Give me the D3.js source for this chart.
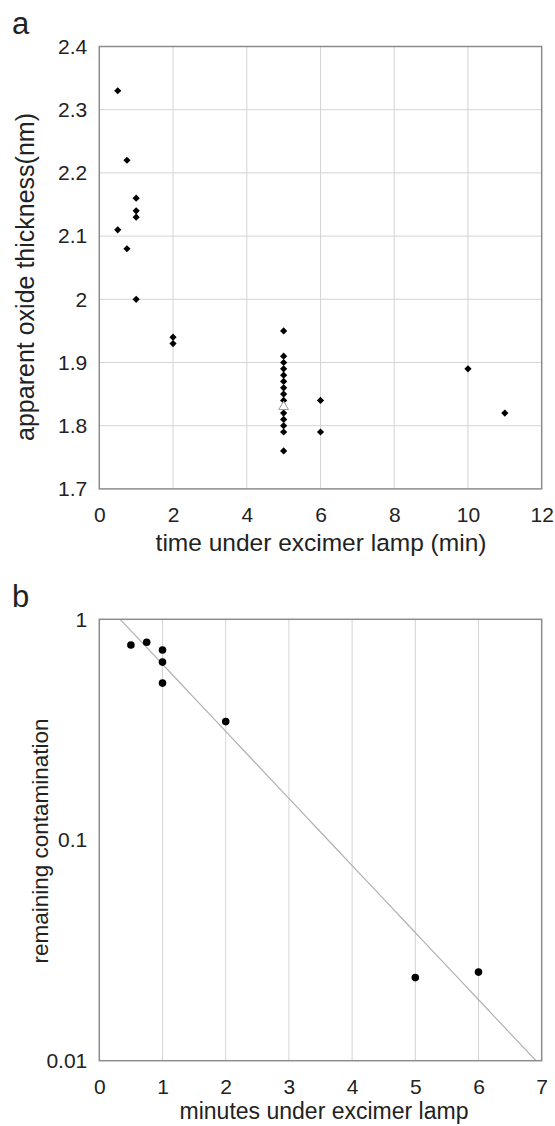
<!DOCTYPE html>
<html lang="en">
<head>
<meta charset="UTF-8">
<title>Excimer lamp cleaning</title>
<script src="https://d3js.org/d3.v7.min.js"></script>
<style>
    body { margin: 0; background: #fff; }
    svg { display: block; background: #fff; }
    text { font-family: "Liberation Sans", Arial, sans-serif; fill: #222; }
    .tick text { font-size: 21px; }
    .grid line { stroke: #d4d4d4; stroke-width: 1; }
</style>
</head>
<body>
<svg id="chart" width="555" height="1126"></svg>
<script>
    // panel a: apparent oxide thickness vs time
    const timeA = [0.5, 0.5, 0.75, 0.75, 1, 1, 1, 1, 2, 2,
                   5, 5, 5, 5, 5, 5, 5, 5, 5, 5, 5, 5, 5, 5,
                   6, 6, 10, 11];
    const thickA = [2.33, 2.11, 2.22, 2.08, 2.16, 2.14, 2.13, 2.00, 1.94, 1.93,
                    1.95, 1.91, 1.90, 1.89, 1.88, 1.87, 1.86, 1.85, 1.84, 1.82, 1.81, 1.80, 1.79, 1.76,
                    1.84, 1.79, 1.89, 1.82];
    const meanA = [{t: 5, v: 1.83}];   // hollow triangle
    const xTicksA = [0, 2, 4, 6, 8, 10, 12];
    const yTicksA = [1.7, 1.8, 1.9, 2, 2.1, 2.2, 2.3, 2.4];

    // panel b: remaining contamination (log)
    const timeB = [0.5, 0.75, 1, 1, 1, 2, 5, 6];
    const contB = [0.765, 0.787, 0.726, 0.640, 0.514, 0.344, 0.0238, 0.0252];
    const fitA = 1.26, fitK = 0.70;    // contamination = fitA * exp(-fitK * t)
    const xTicksB = [0, 1, 2, 3, 4, 5, 6, 7];
    const yTicksB = [0.01, 0.1, 1];

    const svg = d3.select("#chart");

    const xA = d3.scaleLinear().domain([0, 12]).range([99.3, 541.7]);
    const yA = d3.scaleLinear().domain([1.7, 2.4]).range([488.9, 46.5]);
    const xB = d3.scaleLinear().domain([0, 7]).range([99.3, 541.7]);
    const yB = d3.scaleLog().domain([0.01, 1]).range([1060.7, 619.3]);

    function frame(x, y) {
        const [x0, x1] = x.range(), [y0, y1] = y.range();
        svg.append("rect")
            .attr("x", x0).attr("y", y1)
            .attr("width", x1 - x0).attr("height", y0 - y1)
            .attr("fill", "none").attr("stroke", "#8c8c8c").attr("stroke-width", 1.5);
    }

    function axes(x, y, xt, yt, fmtY) {
        const [x0, x1] = x.range(), [y0, y1] = y.range();
        svg.append("g")
            .attr("transform", `translate(0,${y0})`)
            .call(d3.axisBottom(x).tickValues(xt).tickSize(0).tickPadding(18.5).tickFormat(d3.format("d")))
            .call(g => g.select(".domain").remove());
        svg.append("g")
            .attr("transform", `translate(${x0},0)`)
            .call(d3.axisLeft(y).tickValues(yt).tickSize(0).tickPadding(12).tickFormat(fmtY))
            .call(g => g.select(".domain").remove());
    }

    // ---- panel a ----
    const gridA = svg.append("g").attr("class", "grid");
    gridA.selectAll(".v").data(xTicksA.slice(1, -1)).join("line")
        .attr("x1", d => xA(d)).attr("x2", d => xA(d))
        .attr("y1", yA.range()[0]).attr("y2", yA.range()[1]);
    gridA.selectAll(".h").data(yTicksA.slice(1, -1)).join("line")
        .attr("class", "h")
        .attr("y1", d => yA(d)).attr("y2", d => yA(d))
        .attr("x1", xA.range()[0]).attr("x2", xA.range()[1]);

    frame(xA, yA);
    axes(xA, yA, xTicksA, yTicksA, d => String(d));

    const diamond = d3.symbol().type(d3.symbolSquare).size(26);
    svg.append("g").selectAll("path")
        .data(timeA.map((t, i) => ({t, v: thickA[i]})))
        .join("path")
        .attr("d", diamond)
        .attr("transform", d => `translate(${xA(d.t)},${yA(d.v)}) rotate(45)`)
        .attr("fill", "#000");

    svg.append("g").selectAll("path")
        .data(meanA)
        .join("path")
        .attr("d", d3.symbol().type(d3.symbolTriangle).size(40))
        .attr("transform", d => `translate(${xA(d.t)},${yA(d.v)})`)
        .attr("fill", "#fff").attr("stroke", "#999").attr("stroke-width", 1);

    svg.append("text").attr("x", 12).attr("y", 34)
        .style("font-size", "31px").text("a");
    svg.append("text")
        .attr("x", 321).attr("y", 551)
        .attr("text-anchor", "middle").style("font-size", "24.5px")
        .text("time under excimer lamp (min)");
    svg.append("text")
        .attr("transform", `translate(34,277) rotate(-90)`)
        .attr("text-anchor", "middle").style("font-size", "25px")
        .text("apparent oxide thickness(nm)");

    // ---- panel b ----
    const gridB = svg.append("g").attr("class", "grid");
    gridB.selectAll("line").data(xTicksB.slice(1, -1)).join("line")
        .attr("x1", d => xB(d)).attr("x2", d => xB(d))
        .attr("y1", yB.range()[0]).attr("y2", yB.range()[1]);

    // fitted exponential, clipped to the plot
    const tStart = Math.log(fitA / 1) / fitK;
    const tEnd = Math.log(fitA / 0.01) / fitK;
    const fitPts = d3.range(0, 41).map(i => {
        const t = tStart + (tEnd - tStart) * i / 40;
        return [t, fitA * Math.exp(-fitK * t)];
    });
    svg.append("path")
        .datum(fitPts)
        .attr("d", d3.line().x(d => xB(d[0])).y(d => yB(d[1])))
        .attr("fill", "none").attr("stroke", "#b0b0b0").attr("stroke-width", 1.2);

    frame(xB, yB);
    axes(xB, yB, xTicksB, yTicksB, d => String(d));

    svg.append("g").selectAll("circle")
        .data(timeB.map((t, i) => ({t, v: contB[i]})))
        .join("circle")
        .attr("cx", d => xB(d.t)).attr("cy", d => yB(d.v))
        .attr("r", 3.8).attr("fill", "#000");

    svg.append("text").attr("x", 12).attr("y", 607)
        .style("font-size", "31px").text("b");
    svg.append("text")
        .attr("x", 324).attr("y", 1119)
        .attr("text-anchor", "middle").style("font-size", "23px")
        .text("minutes under excimer lamp");
    svg.append("text")
        .attr("transform", `translate(48,841) rotate(-90)`)
        .attr("text-anchor", "middle").style("font-size", "22.5px")
        .text("remaining contamination");
</script>
</body>
</html>
